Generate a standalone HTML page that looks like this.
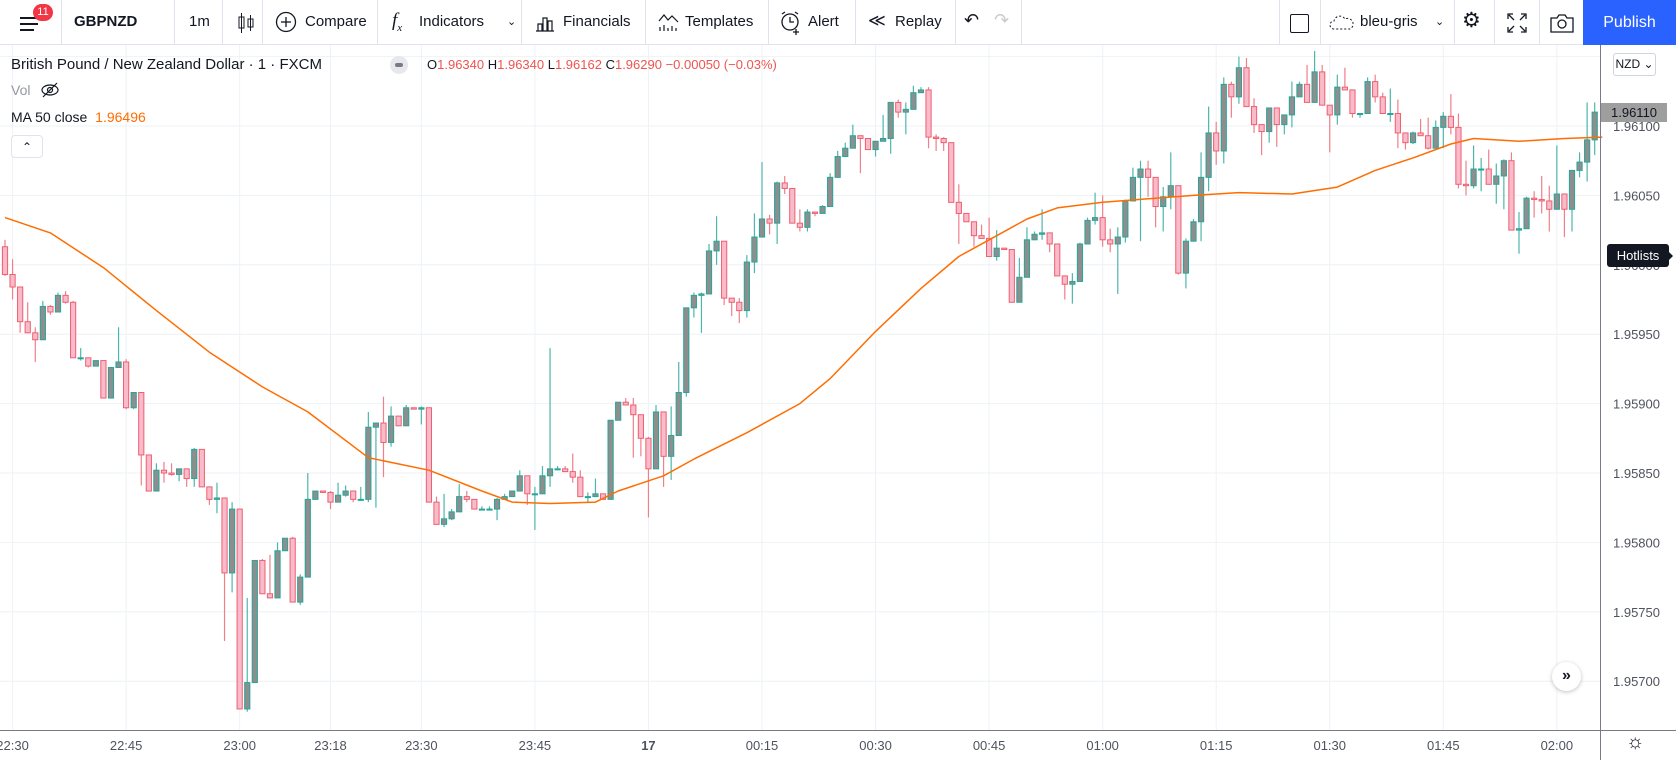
<!DOCTYPE html>
<html><head><meta charset="utf-8">
<style>
body{margin:0;width:1676px;height:760px;overflow:hidden;background:#fff;font-family:"Liberation Sans",sans-serif;position:relative;color:#131722}
.tb{position:absolute;left:0;top:0;width:1676px;height:45px;border-bottom:1px solid #e0e3eb;box-sizing:border-box;background:#fff}
.tb .t{position:absolute;top:13px;font-size:15px;color:#131722;white-space:nowrap}
.tb .d{position:absolute;top:0;width:1px;height:44px;background:#e0e3eb}
.tb .ic{position:absolute;top:10px}
.pub{position:absolute;left:1583px;top:0;width:93px;height:45px;background:#2962ff;color:#fff;font-size:16px;line-height:45px;text-align:center}
.lg{position:absolute;font-size:15px;white-space:nowrap}
</style></head><body>
<div class="tb">
  <svg class="ic" style="left:18px;top:13px" width="24" height="22"><rect x="2" y="4" width="18" height="2" fill="#131722"/><rect x="2" y="10" width="18" height="2" fill="#131722"/><rect x="2" y="16" width="14" height="2" fill="#131722"/></svg>
  <div style="position:absolute;left:33px;top:4px;width:20px;height:17px;border-radius:9px;background:#f23645;color:#fff;font-size:11px;text-align:center;line-height:17px">11</div>
  <div class="d" style="left:61px"></div>
  <div class="t" style="left:74px;font-weight:bold">GBPNZD</div>
  <div class="d" style="left:174px"></div>
  <div class="t" style="left:189px">1m</div>
  <div class="d" style="left:222px"></div>
  <svg class="ic" style="left:236px;top:11px" width="20" height="24"><rect x="3" y="6" width="5" height="11" fill="none" stroke="#131722"/><line x1="5.5" y1="2" x2="5.5" y2="22" stroke="#131722"/><rect x="12" y="8" width="5" height="8" fill="none" stroke="#131722"/><line x1="14.5" y1="4" x2="14.5" y2="20" stroke="#131722"/></svg>
  <div class="d" style="left:262px"></div>
  <svg class="ic" style="left:275px;top:11px" width="24" height="24"><circle cx="11" cy="11" r="9.5" fill="none" stroke="#131722" stroke-width="1.3"/><line x1="11" y1="6" x2="11" y2="16" stroke="#131722" stroke-width="1.3"/><line x1="6" y1="11" x2="16" y2="11" stroke="#131722" stroke-width="1.3"/></svg>
  <div class="t" style="left:305px">Compare</div>
  <div class="d" style="left:377px"></div>
  <div class="t" style="left:392px;font-style:italic;font-family:'Liberation Serif',serif;font-size:19px;top:10px">f<sub style="font-size:11px">x</sub></div>
  <div class="t" style="left:419px">Indicators</div>
  <div class="t" style="left:507px;font-size:11px;top:15px">&#8964;</div>
  <div class="d" style="left:521px"></div>
  <svg class="ic" style="left:534px;top:12px" width="22" height="22"><path d="M2 19h18M4 19v-7h4v7M9 19V6h4v13M14 19V9h4v10" fill="none" stroke="#131722" stroke-width="1.2"/></svg>
  <div class="t" style="left:563px">Financials</div>
  <div class="d" style="left:645px"></div>
  <svg class="ic" style="left:657px;top:11px" width="24" height="24"><path d="M2 10l5-6 4 5 4-4 6 6" fill="none" stroke="#131722" stroke-width="1.2"/><path d="M3 20v-4M7 20v-6M11 20v-3M15 20v-5M19 20v-3" stroke="#131722" stroke-width="1.2"/></svg>
  <div class="t" style="left:685px">Templates</div>
  <div class="d" style="left:768px"></div>
  <svg class="ic" style="left:779px;top:10px" width="24" height="26"><circle cx="11" cy="12" r="8" fill="none" stroke="#131722" stroke-width="1.3"/><path d="M11 7v5h4M3 4l3-2M19 4l-3-2M17 19v6M14 22h6" fill="none" stroke="#131722" stroke-width="1.3"/></svg>
  <div class="t" style="left:808px">Alert</div>
  <div class="d" style="left:855px"></div>
  <div class="t" style="left:868px;font-size:17px;top:11px">&#8810;</div>
  <div class="t" style="left:895px">Replay</div>
  <div class="d" style="left:955px"></div>
  <div class="t" style="left:964px;font-size:18px;top:10px">&#8630;</div>
  <div class="t" style="left:994px;font-size:18px;top:10px;color:#c9cbd1">&#8631;</div>
  <div class="d" style="left:1021px"></div>
  <div class="d" style="left:1279px"></div>
  <div style="position:absolute;left:1290px;top:14px;width:17px;height:17px;border:1.5px solid #131722;border-radius:2px"></div>
  <div class="d" style="left:1320px"></div>
  <svg class="ic" style="left:1328px;top:13px" width="28" height="20"><path d="M6 16a4 4 0 0 1 0-8a6 6 0 0 1 11-2a5 5 0 0 1 5 10z" fill="none" stroke="#131722" stroke-dasharray="2 2"/></svg>
  <div class="t" style="left:1360px">bleu-gris</div>
  <div class="t" style="left:1435px;font-size:11px;top:15px">&#8964;</div>
  <div class="d" style="left:1454px"></div>
  <div class="t" style="left:1462px;font-size:21px;top:8px">&#9881;</div>
  <div class="d" style="left:1494px"></div>
  <svg class="ic" style="left:1506px;top:12px" width="22" height="22"><path d="M2 7V2h5M15 2h5v5M20 15v5h-5M7 20H2v-5M3 3l5 5M19 3l-5 5M19 19l-5-5M3 19l5-5" fill="none" stroke="#131722" stroke-width="1.3"/></svg>
  <div class="d" style="left:1539px"></div>
  <svg class="ic" style="left:1549px;top:12px" width="26" height="22"><path d="M2 6h6l2-3h6l2 3h6v14H2z" fill="none" stroke="#131722" stroke-width="1.3"/><circle cx="13" cy="12" r="4" fill="none" stroke="#131722" stroke-width="1.3"/></svg>
  <div class="pub">Publish</div>
</div>

<svg id="chart" style="position:absolute;left:0;top:45px" width="1676" height="715"></svg>

<div class="lg" style="left:11px;top:56px;color:#131722">British Pound / New Zealand Dollar · 1 · FXCM</div>
<div style="position:absolute;left:390px;top:56px;width:18px;height:18px;border-radius:9px;background:#e6e8ec"><div style="position:absolute;left:5px;top:7px;width:8px;height:4px;border-radius:2px;background:#787b86"></div></div>
<div class="lg" style="left:427px;top:57px;font-size:13px;color:#ef5350"><span style="color:#131722">O</span>1.96340 <span style="color:#131722">H</span>1.96340 <span style="color:#131722">L</span>1.96162 <span style="color:#131722">C</span>1.96290 −0.00050 (−0.03%)</div>
<div class="lg" style="left:11px;top:82px;font-size:14px;color:#9598a1">Vol</div>
<svg style="position:absolute;left:40px;top:81px" width="20" height="18"><ellipse cx="10" cy="9" rx="8" ry="5" fill="none" stroke="#131722" stroke-width="1.2"/><circle cx="10" cy="9" r="2.5" fill="none" stroke="#131722" stroke-width="1.2"/><line x1="3" y1="16" x2="17" y2="2" stroke="#131722" stroke-width="1.2"/></svg>
<div class="lg" style="left:11px;top:109px;font-size:14px;color:#131722">MA 50 close <span style="color:#ff6d00;margin-left:4px">1.96496</span></div>
<div style="position:absolute;left:11px;top:135px;width:30px;height:21px;border:1px solid #e0e3eb;border-radius:4px;background:#fff;text-align:center;font-size:12px;line-height:22px">&#8963;</div>

<div style="position:absolute;left:1613px;top:53px;width:41px;height:21px;border:1px solid #d1d4dc;border-radius:3px;background:#fff;font-size:12px;line-height:21px;text-align:center;color:#131722">NZD &#8964;</div>
<div style="position:absolute;left:1601px;top:103px;width:66px;height:19px;background:#9e9e9e;font-size:13px;line-height:19px;padding-left:10px;box-sizing:border-box;color:#131722">1.96110</div>
<div style="position:absolute;left:1607px;top:244px;width:62px;height:23px;background:#131722;border-radius:3px;color:#fff;font-size:13px;line-height:23px;text-align:center">Hotlists</div>
<div style="position:absolute;left:1667px;top:250px;width:0;height:0;border-top:6px solid transparent;border-bottom:6px solid transparent;border-left:6px solid #131722"></div>
<div style="position:absolute;left:1552px;top:662px;width:29px;height:29px;border-radius:15px;background:#fff;box-shadow:0 1px 4px rgba(0,0,0,.25);text-align:center;line-height:28px;font-size:16px;font-weight:bold;color:#131722">»</div>
<div style="position:absolute;left:1626px;top:731px;font-size:20px;color:#131722">&#9788;</div>

<script>
const closes=[1.95993,1.95984,1.95959,1.95951,1.95946,1.95970,1.95966,1.95978,1.95973,1.95933,1.95933,1.95927,1.95931,1.95904,1.95926,1.95930,1.95897,1.95908,1.95863,1.95837,1.95852,1.95850,1.95849,1.95853,1.95846,1.95867,1.95840,1.95831,1.95832,1.95778,1.95824,1.95680,1.95699,1.95787,1.95763,1.95760,1.95794,1.95803,1.95757,1.95775,1.95831,1.95837,1.95836,1.95829,1.95834,1.95837,1.95831,1.95831,1.95883,1.95886,1.95872,1.95891,1.95884,1.95897,1.95896,1.95897,1.95829,1.95813,1.95817,1.95822,1.95833,1.95831,1.95824,1.95824,1.95824,1.95831,1.95833,1.95837,1.95848,1.95835,1.95835,1.95848,1.95853,1.95853,1.95851,1.95847,1.95833,1.95833,1.95835,1.95831,1.95888,1.95901,1.95899,1.95892,1.95875,1.95853,1.95894,1.95862,1.95877,1.95908,1.95969,1.95978,1.95979,1.96010,1.96017,1.95976,1.95973,1.95967,1.96002,1.96020,1.96033,1.96030,1.96059,1.96055,1.96030,1.96027,1.96038,1.96037,1.96042,1.96063,1.96078,1.96084,1.96093,1.96091,1.96083,1.96089,1.96091,1.96117,1.96110,1.96112,1.96124,1.96126,1.96092,1.96091,1.96088,1.96045,1.96037,1.96031,1.96021,1.96019,1.96006,1.96012,1.96011,1.95973,1.95991,1.96018,1.96022,1.96023,1.96015,1.95992,1.95986,1.95988,1.96015,1.96032,1.96034,1.96018,1.96015,1.96020,1.96046,1.96063,1.96069,1.96063,1.96042,1.96049,1.96057,1.95994,1.96017,1.96031,1.96063,1.96095,1.96082,1.96130,1.96121,1.96142,1.96114,1.96101,1.96096,1.96113,1.96101,1.96108,1.96121,1.96130,1.96117,1.96139,1.96115,1.96108,1.96128,1.96126,1.96109,1.96109,1.96132,1.96121,1.96109,1.96109,1.96095,1.96088,1.96095,1.96093,1.96084,1.96099,1.96107,1.96099,1.96058,1.96057,1.96069,1.96069,1.96058,1.96064,1.96075,1.96025,1.96026,1.96048,1.96047,1.96046,1.96040,1.96051,1.96040,1.96068,1.96074,1.96090,1.96110];
const highs=[1.96018,1.96004,1.95984,1.95973,1.95955,1.95974,1.95971,1.95980,1.95981,1.95974,1.95940,1.95933,1.95931,1.95931,1.95926,1.95955,1.95932,1.95908,1.95908,1.95863,1.95857,1.95858,1.95857,1.95853,1.95853,1.95868,1.95867,1.95840,1.95843,1.95832,1.95829,1.95824,1.95760,1.95787,1.95788,1.95791,1.95800,1.95803,1.95804,1.95777,1.95850,1.95837,1.95837,1.95837,1.95843,1.95841,1.95837,1.95840,1.95894,1.95886,1.95905,1.95898,1.95891,1.95899,1.95897,1.95898,1.95897,1.95833,1.95835,1.95824,1.95842,1.95837,1.95831,1.95826,1.95826,1.95832,1.95835,1.95837,1.95852,1.95848,1.95840,1.95855,1.95940,1.95855,1.95855,1.95864,1.95852,1.95836,1.95846,1.95835,1.95888,1.95901,1.95904,1.95904,1.95892,1.95876,1.95899,1.95894,1.95898,1.95930,1.95969,1.95980,1.95980,1.96015,1.96035,1.96017,1.95976,1.95976,1.96007,1.96037,1.96074,1.96036,1.96060,1.96064,1.96055,1.96040,1.96040,1.96038,1.96043,1.96066,1.96082,1.96088,1.96101,1.96093,1.96091,1.96089,1.96108,1.96117,1.96119,1.96117,1.96129,1.96128,1.96128,1.96094,1.96092,1.96088,1.96058,1.96037,1.96031,1.96029,1.96034,1.96025,1.96012,1.96011,1.96005,1.96027,1.96024,1.96040,1.96023,1.96015,1.95992,1.95994,1.96016,1.96034,1.96052,1.96050,1.96026,1.96027,1.96047,1.96070,1.96075,1.96075,1.96063,1.96056,1.96081,1.96057,1.96019,1.96033,1.96081,1.96114,1.96103,1.96135,1.96132,1.96150,1.96149,1.96120,1.96101,1.96113,1.96113,1.96108,1.96132,1.96132,1.96144,1.96154,1.96144,1.96115,1.96137,1.96142,1.96126,1.96109,1.96135,1.96137,1.96124,1.96127,1.96119,1.96095,1.96096,1.96105,1.96106,1.96104,1.96110,1.96123,1.96109,1.96075,1.96086,1.96077,1.96083,1.96073,1.96076,1.96081,1.96038,1.96049,1.96053,1.96064,1.96057,1.96086,1.96051,1.96068,1.96081,1.96117,1.96117];
const lows=[1.95992,1.95975,1.95951,1.95951,1.95930,1.95946,1.95964,1.95966,1.95972,1.95933,1.95931,1.95926,1.95927,1.95904,1.95904,1.95926,1.95896,1.95896,1.95841,1.95837,1.95837,1.95843,1.95848,1.95844,1.95840,1.95840,1.95840,1.95827,1.95821,1.95729,1.95764,1.95680,1.95678,1.95699,1.95763,1.95760,1.95760,1.95794,1.95757,1.95755,1.95775,1.95831,1.95836,1.95824,1.95829,1.95833,1.95829,1.95830,1.95829,1.95825,1.95847,1.95869,1.95884,1.95884,1.95896,1.95885,1.95829,1.95813,1.95811,1.95816,1.95822,1.95829,1.95824,1.95824,1.95824,1.95816,1.95831,1.95833,1.95837,1.95827,1.95809,1.95835,1.95840,1.95852,1.95851,1.95843,1.95833,1.95829,1.95833,1.95831,1.95831,1.95888,1.95899,1.95861,1.95862,1.95818,1.95853,1.95840,1.95845,1.95877,1.95905,1.95962,1.95951,1.95979,1.96000,1.95971,1.95963,1.95958,1.95962,1.95994,1.96020,1.96022,1.96015,1.96051,1.96030,1.96024,1.96024,1.96035,1.96037,1.96042,1.96063,1.96078,1.96084,1.96066,1.96083,1.96078,1.96089,1.96080,1.96106,1.96094,1.96112,1.96124,1.96084,1.96082,1.96082,1.96045,1.96015,1.96031,1.96013,1.96019,1.96006,1.96003,1.96011,1.95973,1.95973,1.95991,1.96018,1.96018,1.96009,1.95992,1.95975,1.95972,1.95988,1.96015,1.96029,1.96013,1.96009,1.95979,1.96016,1.96046,1.96017,1.96049,1.96027,1.96024,1.96040,1.95993,1.95983,1.96017,1.96017,1.96053,1.96072,1.96073,1.96106,1.96116,1.96114,1.96095,1.96079,1.96088,1.96085,1.96094,1.96099,1.96121,1.96117,1.96117,1.96115,1.96081,1.96101,1.96126,1.96106,1.96106,1.96109,1.96117,1.96109,1.96103,1.96084,1.96083,1.96087,1.96093,1.96083,1.96084,1.96084,1.96094,1.96055,1.96050,1.96055,1.96053,1.96058,1.96044,1.96040,1.96025,1.96008,1.96026,1.96034,1.96037,1.96024,1.96040,1.96020,1.96024,1.96063,1.96060,1.96079];
const firstOpen=1.96013;
const maIndex=[0,6,13,20,27,34,40,48,56,63,67,72,78,81,87,91,98,105,109,115,121,126,131,135,139,145,152,157,163,170,176,181,186,191,194,200,206,211];
const maValues=[1.96034,1.96023,1.95998,1.95967,1.95937,1.95912,1.95894,1.95861,1.95852,1.95837,1.95829,1.95828,1.95829,1.95837,1.95848,1.95860,1.95879,1.95900,1.95918,1.95952,1.95983,1.96006,1.96021,1.96033,1.96041,1.96045,1.96048,1.96050,1.96052,1.96051,1.96056,1.96068,1.96077,1.96087,1.96091,1.96089,1.96091,1.96092];
const priceTicks=[1.9615,1.961,1.9605,1.96,1.9595,1.959,1.9585,1.958,1.9575,1.957];
const timeTickIndex=[1,16,31,43,55,70,85,100,115,130,145,160,175,190,205];
const timeTickLabels=["22:30","22:45","23:00","23:18","23:30","23:45","17","00:15","00:30","00:45","01:00","01:15","01:30","01:45","02:00"];

const svg=document.getElementById('chart');
const NS='http://www.w3.org/2000/svg';
const OY=45;
function yOf(p){return 126+(1.961-p)*138800-OY;}
function xOf(i){return 5+i*7.57;}
function mk(tag,attrs){const e=document.createElementNS(NS,tag);for(const k in attrs)e.setAttribute(k,attrs[k]);svg.appendChild(e);return e;}

// grid
priceTicks.forEach((p,k)=>{
  const g=mk('line',{x1:0,x2:1600,y1:yOf(p),y2:yOf(p),stroke:'#eef2f6','stroke-width':1});
  
  
  if(yOf(p)>14){
  const t=mk('text',{x:1613,y:yOf(p)+5,'font-size':13,fill:'#50535e','font-family':'Liberation Sans, sans-serif'});
  t.textContent=p.toFixed(5);
  
  
  }
});
timeTickIndex.forEach((idx,k)=>{
  const x=xOf(idx);
  const g=mk('line',{x1:x,x2:x,y1:0,y2:685,stroke:'#eef2f6','stroke-width':1});
  
  
  const t=mk('text',{x:x,y:705,'font-size':13,fill:'#50535e','text-anchor':'middle','font-family':'Liberation Sans, sans-serif','font-weight':timeTickLabels[k]==='17'?'bold':'normal'});
  t.textContent=timeTickLabels[k];
  
  
});

// candles
closes.forEach((c,i)=>{
  const o=i===0?firstOpen:closes[i-1];
  const h=Math.max(highs[i],o,c), l=Math.min(lows[i],o,c);
  const bull=c>=o;
  const x=xOf(i);
  const w=mk('line',{x1:x,x2:x,y1:yOf(h),y2:yOf(l),stroke:bull?'#4db6ac':'#ef7f8a','stroke-width':1.2});
  
  
  const top=yOf(Math.max(o,c)), bot=yOf(Math.min(o,c));
  const b=mk('rect',{x:x-2.6,y:top,width:5.2,height:Math.max(bot-top,1),fill:bull?'#8e8e8e':'#f8bbcc',stroke:bull?'#26a69a':'#ef5f6e','stroke-width':1});
  
  
});

// MA line
let d='';
maIndex.forEach((idx,k)=>{d+=(k?'L':'M')+xOf(idx).toFixed(1)+' '+yOf(maValues[k]).toFixed(1);});
const ma=mk('path',{d:d,fill:'none',stroke:'#ff6d00','stroke-width':1.5,'stroke-linejoin':'round'});



// axes borders
const ax=mk('line',{x1:1600.5,x2:1600.5,y1:0,y2:715,stroke:'#787b86','stroke-width':1});


const bx=mk('line',{x1:0,x2:1676,y1:685.5,y2:685.5,stroke:'#787b86','stroke-width':1});


</script>
</body></html>
